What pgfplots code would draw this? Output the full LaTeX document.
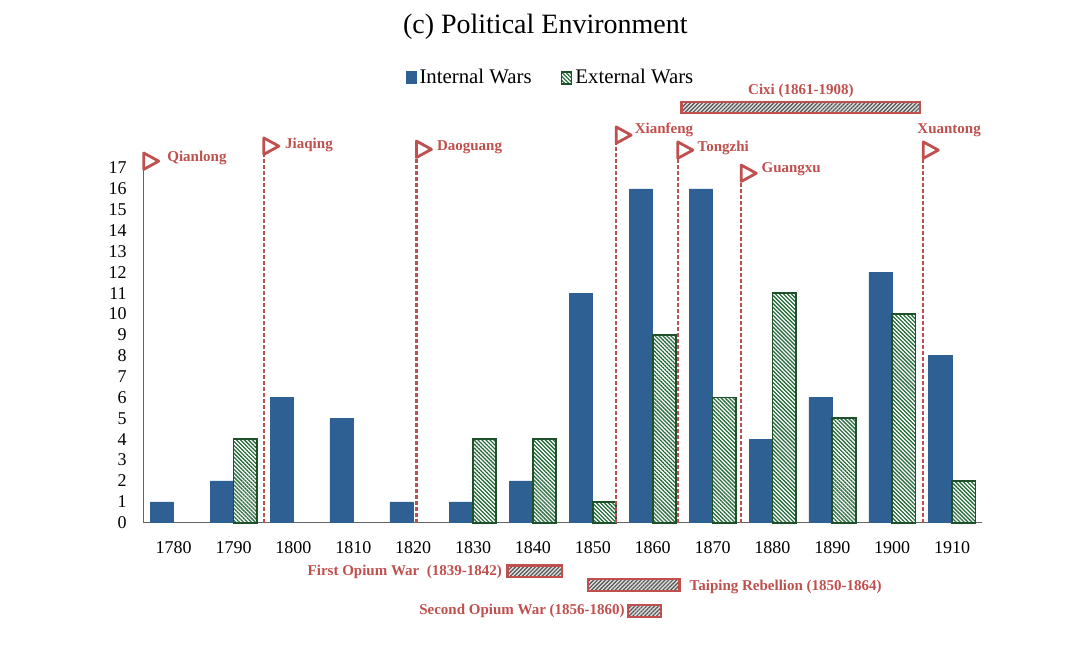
\documentclass[border=0pt]{standalone}
\usepackage{pgfplots}
\pgfplotsset{compat=1.18}
\usepackage{fontspec}
\setmainfont{Liberation Serif}
\usetikzlibrary{patterns.meta}
\definecolor{barblue}{RGB}{46,96,148}
\definecolor{hgreen}{RGB}{40,108,60}
\definecolor{bgreen}{RGB}{30,80,42}
\definecolor{fred}{RGB}{192,80,77}
\definecolor{hgray}{RGB}{85,85,85}
\definecolor{axgray}{RGB}{100,100,100}
\newcommand{\flagtri}[2]{%
  \draw[fred, line width=1.4pt, line join=round] (axis cs:#1,#2) -- ++(7.5pt,-4.1pt) -- ++(-7.5pt,-4.1pt) -- cycle;}
\newcommand{\flag}[2]{%
  \draw[fred, line width=1.1pt, dash pattern=on 2pt off 1pt] (axis cs:#1,0) -- ([yshift=-8.2pt]axis cs:#1,#2);
  \flagtri{#1}{#2}}
\begin{document}
\begin{tikzpicture}
\begin{axis}[
  at={(0,0)}, anchor=south west,
  scale only axis, width=419.15pt, height=177.35pt,
  xmin=-0.5, xmax=13.5, ymin=0, ymax=17,
  ybar=0pt, bar width=0.39,
  axis x line*=bottom, axis y line*=left,
  axis line style={draw=axgray, line width=0.6pt, -},
  xtick={0,...,13},
  xticklabels={1780,1790,1800,1810,1820,1830,1840,1850,1860,1870,1880,1890,1900,1910},
  ytick={0,...,17},
  major tick length=0pt,
  tick label style={font=\fontsize{9}{10}\selectfont},
  /pgf/number format/assume math mode=true,
  xticklabel style={yshift=-6pt},
  yticklabel style={xshift=-5pt},
  clip=false,
  legend style={at={(axis description cs:0.486,1.2546)}, anchor=center, draw=none, fill=none,
    font=\fontsize{10.4}{12}\selectfont, inner sep=0pt,
    nodes={inner sep=1.5pt},
    /tikz/every even column/.append style={column sep=13pt}},
  legend columns=2,
  legend image code/.code={\draw[#1] (0pt,-3pt) rectangle (5pt,3pt);},
]
\addplot[fill=barblue, draw=barblue, line width=0.3pt] coordinates {(0,1) (1,2) (2,6) (3,5) (4,1) (5,1) (6,2) (7,11) (8,16) (9,16) (10,4) (11,6) (12,12) (13,8)};
\addlegendentry{Internal Wars}
\addplot[draw=bgreen, line width=0.9pt, pattern={Lines[angle=-45,distance=1.4pt,line width=0.65pt]}, pattern color=hgreen] coordinates {(1,4) (5,4) (6,4) (7,1) (8,9) (9,6) (10,11) (11,5) (12,10) (13,2)};
\addlegendentry{External Wars}

% title
\node[font=\fontsize{14}{16}\selectfont] at (axis cs:6.207,23.76) {(c) Political Environment};

% flags
\flagtri{-0.5}{17.72}
\flag{1.506}{18.44}
\flag{4.055}{18.29}
\flag{7.39}{18.97}
\flag{8.42}{18.25}
\flag{9.48}{17.14}
\flag{12.52}{18.25}

\begin{scope}[every node/.style={text=fred, font=\fontsize{7.5}{9}\bfseries, inner sep=0pt}]
\node[anchor=west] at (axis cs:-0.112,17.48) {Qianlong};
\node[anchor=west] at (axis cs:1.857,18.10) {Jiaqing};
\node[anchor=west] at (axis cs:4.392,18.01) {Daoguang};
\node[anchor=west] at (axis cs:7.695,18.82) {Xianfeng};
\node[anchor=west] at (axis cs:8.746,17.96) {Tongzhi};
\node[anchor=west] at (axis cs:9.813,16.92) {Guangxu};
\node[anchor=west] at (axis cs:12.415,18.82) {Xuantong};
\node[anchor=center] at (axis cs:10.475,20.70) {Cixi (1861-1908)};
\node[anchor=east] at (axis cs:5.488,-2.348) {First Opium War~ (1839-1842)};
\node[anchor=west] at (axis cs:8.612,-3.067) {Taiping Rebellion (1850-1864)};
\node[anchor=east] at (axis cs:7.540,-4.232) {Second Opium War (1856-1860)};
\end{scope}

% period bars
\draw[fred, line width=1.1pt, preaction={fill=black!12}, pattern={Lines[angle=45,distance=1.4pt,line width=0.6pt]}, pattern color=hgray] (axis cs:8.48,19.64) rectangle (axis cs:12.47,20.16);
\draw[fred, line width=1.1pt, preaction={fill=black!12}, pattern={Lines[angle=45,distance=1.4pt,line width=0.6pt]}, pattern color=hgray] (axis cs:5.575,-2.05) rectangle (axis cs:6.49,-2.61);
\draw[fred, line width=1.1pt, preaction={fill=black!12}, pattern={Lines[angle=45,distance=1.4pt,line width=0.6pt]}, pattern color=hgray] (axis cs:6.926,-2.69) rectangle (axis cs:8.447,-3.285);
\draw[fred, line width=1.1pt, preaction={fill=black!12}, pattern={Lines[angle=45,distance=1.4pt,line width=0.6pt]}, pattern color=hgray] (axis cs:7.583,-3.935) rectangle (axis cs:8.141,-4.53);
\end{axis}
\pgfresetboundingbox
\useasboundingbox (-71.85pt,-62.15pt) rectangle (468.15pt,261.35pt);
\end{tikzpicture}
\end{document}
